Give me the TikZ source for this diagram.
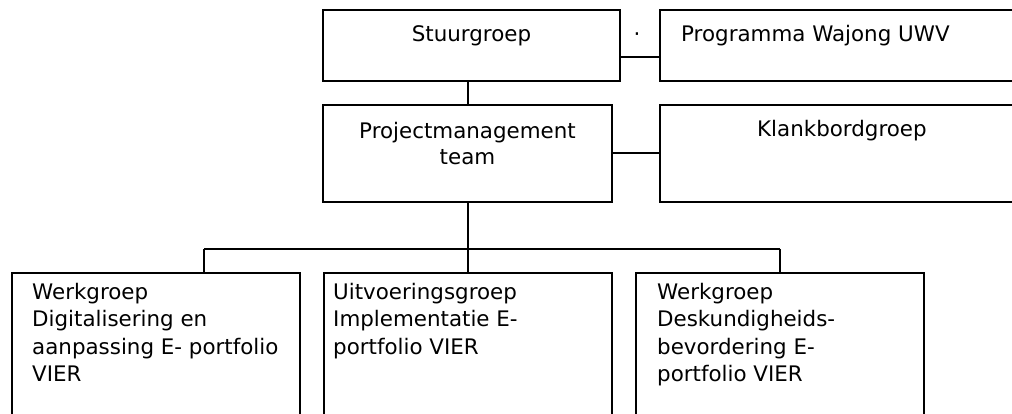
\documentclass[tikz,border=0pt]{standalone}
\usepackage{fontspec}
\setmainfont{DejaVu Sans}
\begin{document}
\begin{tikzpicture}[x=1pt,y=-1pt,
  box/.style={draw, line width=2pt, inner sep=0pt, outer sep=0pt, anchor=north west},
  conn/.style={line width=2pt},
  lbl/.style={inner sep=0pt, font=\fontsize{21.4}{26}\selectfont},
  lblb/.style={inner sep=0pt, font=\fontsize{21.4}{27.5}\selectfont, anchor=base west},
]
\useasboundingbox (0,0) rectangle (1012,414);
\clip (0,0) rectangle (1012,414);
% boxes
\node[box, minimum width=297pt, minimum height=71pt] (stuur) at (323,10) {};
\node[box, minimum width=390pt, minimum height=71pt] (prog) at (660,10) {};
\node[box, minimum width=289pt, minimum height=97pt] (pm) at (323,105) {};
\node[box, minimum width=390pt, minimum height=97pt] (klank) at (660,105) {};
\node[box, minimum width=288pt, minimum height=180pt] (c1) at (12,273) {};
\node[box, minimum width=288pt, minimum height=180pt] (c2) at (324,273) {};
\node[box, minimum width=288pt, minimum height=180pt] (c3) at (636,273) {};
% texts
\node[lbl, anchor=base] (tstuur) at (471.5,41.7) {Stuurgroep};
\node[lbl, anchor=base] (tdot) at (637,42) {·};
\node[lbl, anchor=base west] (tprog) at (681,42) {Programma Wajong UWV};
\node[lbl, anchor=base] (tpm) at (467.5,138.3) {\parbox[t]{289pt}{\centering Projectmanagement\\team}};
\node[lbl, anchor=base west] (tklank) at (757,137) {Klankbordgroep};
\node[lblb] (tc1) at (32,299.3) {\parbox[t]{300pt}{\raggedright Werkgroep\\Digitalisering en\\aanpassing E- portfolio\\VIER}};
\node[lblb] (tc2) at (333,299.3) {\parbox[t]{300pt}{\raggedright Uitvoeringsgroep\\Implementatie E-\\portfolio VIER}};
\node[lblb] (tc3) at (657,299.3) {\parbox[t]{300pt}{\raggedright Werkgroep\\Deskundigheids-\\bevordering E-\\portfolio VIER}};
% connectors
\coordinate (busL) at (204,249);
\coordinate (busR) at (780,249);
\draw[conn] ([yshift=-11.5pt]stuur.east) -- ([yshift=-11.5pt]stuur.east -| prog.west);
\draw[conn] (pm.east) -- (klank.west |- pm.east);
\draw[conn] (pm.north -| c2.north) -- (c2.north |- stuur.south);
\draw[conn] (pm.south -| c2.north) -- (c2.north);
\draw[conn] (busL) -- (busR);
\draw[conn] (busL) -- (busL |- c1.north);
\draw[conn] (busR) -- (busR |- c3.north);
\end{tikzpicture}
\end{document}
